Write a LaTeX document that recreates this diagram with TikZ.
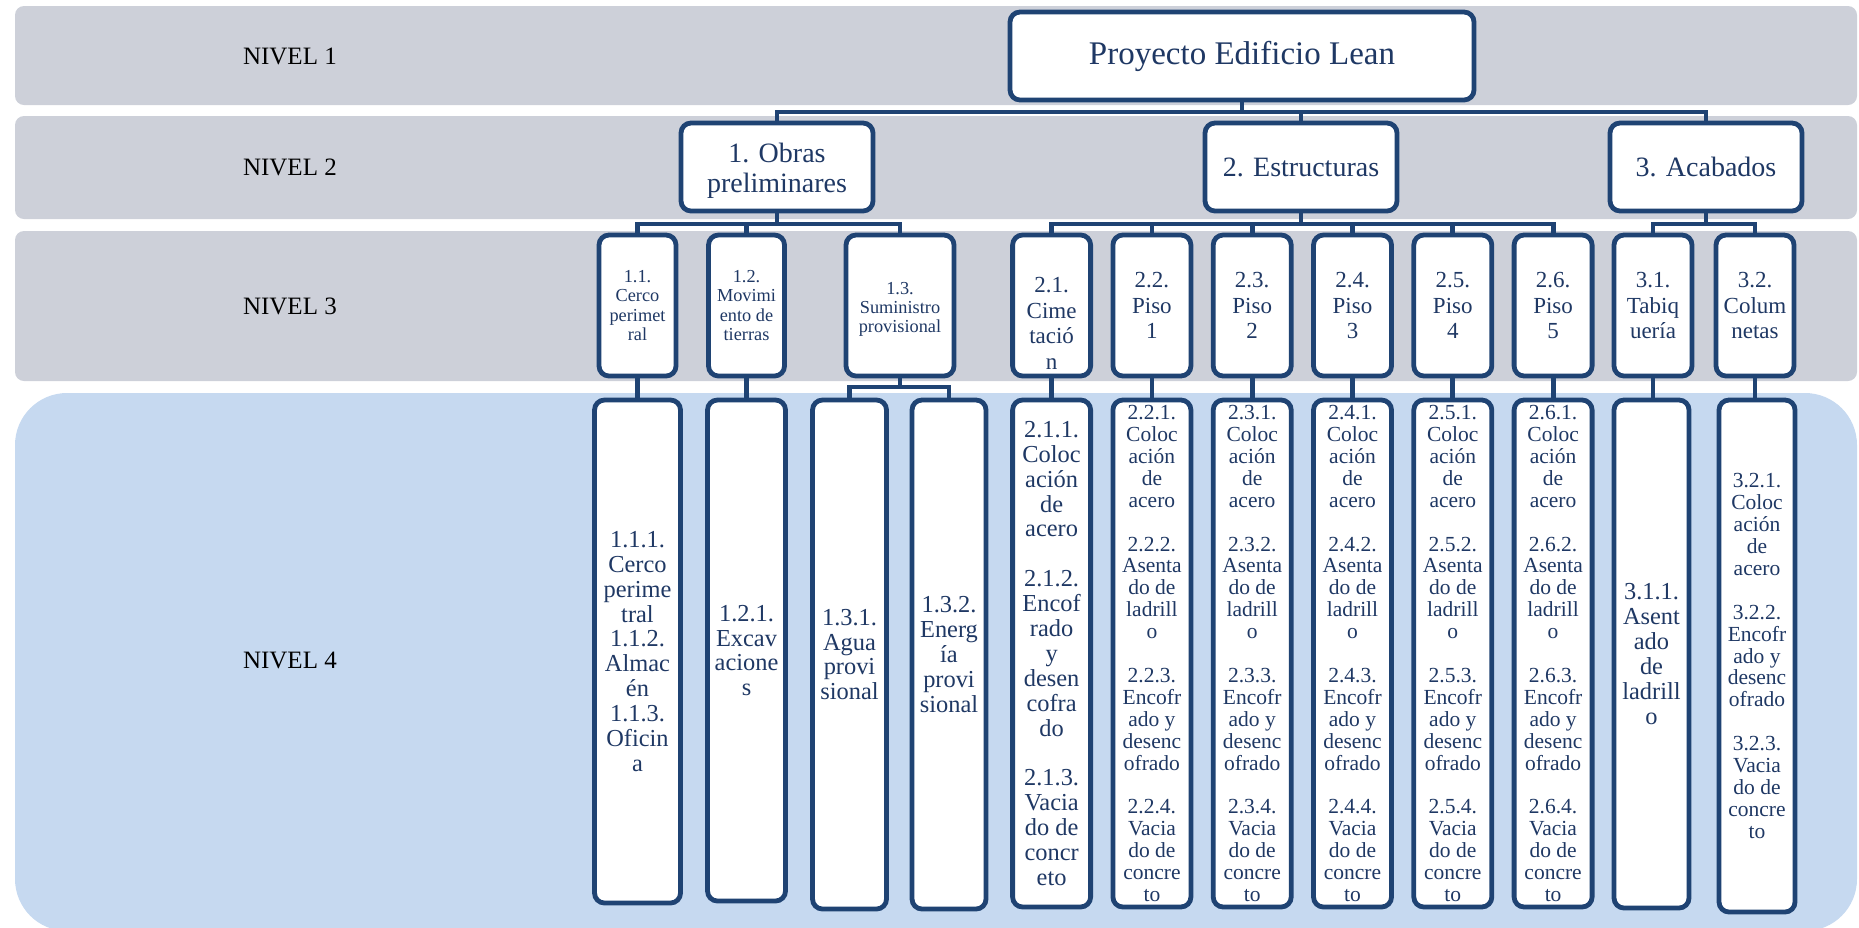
\documentclass[tikz,border=0pt]{standalone}
\usepackage{fontspec}
\setmainfont{Liberation Serif}
\definecolor{gris}{RGB}{205,208,217}
\definecolor{celeste}{RGB}{198,217,240}
\definecolor{marco}{RGB}{31,67,115}
\definecolor{letra}{RGB}{31,56,100}
\newcommand{\hueco}{\\[\baselineskip]}
\begin{document}
\begin{tikzpicture}[x=0.5pt, y=-0.5pt,
    nivel/.style={anchor=west, font=\fontsize{12.5pt}{14pt}\selectfont},
    caja/.style={draw=marco, line width=2.4pt, rounded corners=5pt, fill=white, text=letra, align=center, inner sep=0pt, outer sep=0pt},
    uno/.style={caja, minimum width=232pt, minimum height=44pt, font=\fontsize{16.5pt}{19pt}\selectfont},
    dos/.style={caja, minimum width=96pt, minimum height=44pt, font=\fontsize{14pt}{15pt}\selectfont},
    tres/.style={caja, minimum width=39pt, minimum height=70.5pt, font=\fontsize{11.5pt}{12.75pt}\selectfont},
    tresp/.style={tres, font=\fontsize{9.15pt}{9.65pt}\selectfont},
    cuatro/.style={caja, anchor=north, minimum width=39pt, minimum height=253.5pt, font=\fontsize{10.75pt}{10.95pt}\selectfont},
    cuatrog/.style={cuatro, font=\fontsize{12.2pt}{12.45pt}\selectfont},
    rama/.style={draw=marco, line width=2.4pt}]
  \useasboundingbox (0,0) rectangle (1859,927);
  \clip (0,0) rectangle (1859,927);

  % franjas de nivel
  \fill[gris, rounded corners=4.5pt] (15,6) rectangle (1857,105);
  \fill[gris, rounded corners=4.5pt] (15,116) rectangle (1857,219);
  \fill[gris, rounded corners=4.5pt] (15,231) rectangle (1857,381);
  \fill[celeste, rounded corners=26pt] (15,393) rectangle (1857,931);

  \node[nivel] (niv1) at (236,56) {NIVEL 1};
  \node[nivel] (niv2) at (236,167) {NIVEL 2};
  \node[nivel] (niv3) at (236,306) {NIVEL 3};
  \node[nivel] (niv4) at (236,660) {NIVEL 4};

  % nivel 1 y 2
  \node[uno] (proy) at (1242,56) {Proyecto Edificio Lean};
  \node[dos] (obras) at (777,167) {\rule{0pt}{13pt}1. Obras\\preliminares};
  \node[dos] (estr) at (1301,167) {2. Estructuras};
  \node[dos] (acab) at (1706,167) {3. Acabados};

  % nivel 3
  \node[tresp, minimum width=38.5pt] (n11) at (637.5,305.5) {1.1.\\Cerco\\perimet\\ral};
  \node[tresp, minimum width=38pt] (n12) at (746.5,305.5) {1.2.\\Movimi\\ento de\\tierras};
  \node[tresp, minimum width=54pt] (n13) at (900,305.5) {\rule{0pt}{10pt}1.3.\\Suministro\\provisional};
  \node[tres] (n21) at (1051.6,305.5) {\rule{0pt}{25.5pt}2.1.\\Cime\\tació\\n};
  \node[tres] (n22) at (1151.9,305.5) {2.2.\\Piso\\1};
  \node[tres] (n23) at (1252.2,305.5) {2.3.\\Piso\\2};
  \node[tres] (n24) at (1352.5,305.5) {2.4.\\Piso\\3};
  \node[tres] (n25) at (1452.8,305.5) {2.5.\\Piso\\4};
  \node[tres] (n26) at (1553.1,305.5) {2.6.\\Piso\\5};
  \node[tres] (n31) at (1653,305.5) {3.1.\\Tabiq\\uería};
  \node[tres] (n32) at (1755,305.5) {3.2.\\Colum\\netas};

  % nivel 4
  \node[cuatrog, minimum width=43pt, minimum height=251.5pt] (m111) at (637.5,400) {1.1.1.\\Cerco\\perime\\tral\\1.1.2.\\Almac\\én\\1.1.3.\\Oficin\\a};
  \node[cuatrog, minimum height=250.5pt] (m121) at (746.5,400) {1.2.1.\\Excav\\acione\\s};
  \node[cuatrog, minimum width=37pt, minimum height=254.5pt] (m131) at (849.5,400) {1.3.1.\\Agua\\provi\\sional};
  \node[cuatrog, minimum width=37pt, minimum height=254.5pt] (m132) at (949,400) {1.3.2.\\Energ\\ía\\provi\\sional};
  \node[cuatrog] (m211) at (1051.6,400) {2.1.1.\\Coloc\\ación\\de\\acero\hueco 2.1.2.\\Encof\\rado\\y\\desen\\cofra\\do\hueco 2.1.3.\\Vacia\\do de\\concr\\eto};
  \node[cuatro] (m221) at (1151.9,400) {2.2.1.\\Coloc\\ación\\de\\acero\hueco 2.2.2.\\Asenta\\do de\\ladrill\\o\hueco 2.2.3.\\Encofr\\ado y\\desenc\\ofrado\hueco 2.2.4.\\Vacia\\do de\\concre\\to};
  \node[cuatro] (m231) at (1252.2,400) {2.3.1.\\Coloc\\ación\\de\\acero\hueco 2.3.2.\\Asenta\\do de\\ladrill\\o\hueco 2.3.3.\\Encofr\\ado y\\desenc\\ofrado\hueco 2.3.4.\\Vacia\\do de\\concre\\to};
  \node[cuatro] (m241) at (1352.5,400) {2.4.1.\\Coloc\\ación\\de\\acero\hueco 2.4.2.\\Asenta\\do de\\ladrill\\o\hueco 2.4.3.\\Encofr\\ado y\\desenc\\ofrado\hueco 2.4.4.\\Vacia\\do de\\concre\\to};
  \node[cuatro] (m251) at (1452.8,400) {2.5.1.\\Coloc\\ación\\de\\acero\hueco 2.5.2.\\Asenta\\do de\\ladrill\\o\hueco 2.5.3.\\Encofr\\ado y\\desenc\\ofrado\hueco 2.5.4.\\Vacia\\do de\\concre\\to};
  \node[cuatro] (m261) at (1553.1,400) {2.6.1.\\Coloc\\ación\\de\\acero\hueco 2.6.2.\\Asenta\\do de\\ladrill\\o\hueco 2.6.3.\\Encofr\\ado y\\desenc\\ofrado\hueco 2.6.4.\\Vacia\\do de\\concre\\to};
  \node[cuatrog, minimum width=37.5pt, minimum height=254pt] (m311) at (1651.5,400) {3.1.1.\\Asent\\ado\\de\\ladrill\\o};
  \node[cuatro, minimum width=38pt, minimum height=256pt] (m321) at (1757,400) {3.2.1.\\Coloc\\ación\\de\\acero\hueco 3.2.2.\\Encofr\\ado y\\desenc\\ofrado\hueco 3.2.3.\\Vacia\\do de\\concre\\to};

  % ramas
  \draw[rama] (proy.south) -- ++(0,12) -| (obras.north);
  \draw[rama] (proy.south) -- ++(0,12) -| (estr.north);
  \draw[rama] (proy.south) -- ++(0,12) -| (acab.north);
  \draw[rama] (obras.south) -- ++(0,13) -| (n11.north);
  \draw[rama] (obras.south) -- ++(0,13) -| (n12.north);
  \draw[rama] (obras.south) -- ++(0,13) -| (n13.north);
  \draw[rama] (estr.south) -- ++(0,13) -| (n21.north);
  \draw[rama] (estr.south) -- ++(0,13) -| (n22.north);
  \draw[rama] (estr.south) -- ++(0,13) -| (n23.north);
  \draw[rama] (estr.south) -- ++(0,13) -| (n24.north);
  \draw[rama] (estr.south) -- ++(0,13) -| (n25.north);
  \draw[rama] (estr.south) -- ++(0,13) -| (n26.north);
  \draw[rama] (acab.south) -- ++(0,13) -| (n31.north);
  \draw[rama] (acab.south) -- ++(0,13) -| (n32.north);
  \draw[rama] (n11.south) -- (n11.south |- m111.north);
  \draw[rama] (n12.south) -- (n12.south |- m121.north);
  \draw[rama] (n13.south) -- ++(0,11) -| (m131.north);
  \draw[rama] (n13.south) -- ++(0,11) -| (m132.north);
  \draw[rama] (n21.south) -- (n21.south |- m211.north);
  \draw[rama] (n22.south) -- (n22.south |- m221.north);
  \draw[rama] (n23.south) -- (n23.south |- m231.north);
  \draw[rama] (n24.south) -- (n24.south |- m241.north);
  \draw[rama] (n25.south) -- (n25.south |- m251.north);
  \draw[rama] (n26.south) -- (n26.south |- m261.north);
  \draw[rama] (n31.south) -- (n31.south |- m311.north);
  \draw[rama] (n32.south) -- (n32.south |- m321.north);
\end{tikzpicture}
\end{document}
